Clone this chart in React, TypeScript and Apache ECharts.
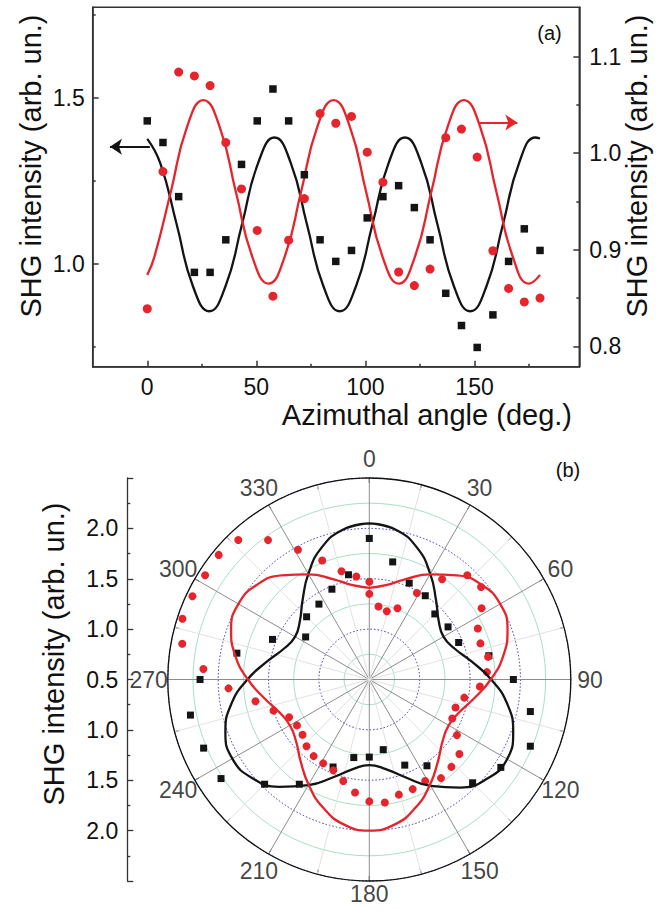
import React, { useEffect, useRef } from "react";
import * as echarts from "echarts";

// ---------- Panel (a): SHG vs azimuthal angle ----------
const azimuth = [0, 7.2, 14.4, 21.6, 28.8, 36, 43.2, 50.4, 57.6, 64.8, 72, 79.2, 86.4, 93.6, 100.8, 108, 115.2, 122.4, 129.6, 136.8, 144, 151.2, 158.4, 165.6, 172.8, 180];
const shgBlack = [1.430, 1.365, 1.202, 0.974, 0.974, 1.072, 1.299, 1.430, 1.526, 1.430, 1.268, 1.072, 1.007, 1.040, 1.138, 1.202, 1.235, 1.169, 1.072, 0.911, 0.814, 0.748, 0.846, 1.007, 1.105, 1.040];
const shgRed = [0.839, 0.981, 1.084, 1.080, 1.070, 1.011, 0.963, 0.920, 0.852, 0.910, 0.953, 1.041, 1.031, 1.038, 1.001, 0.970, 0.877, 0.863, 0.880, 1.016, 1.025, 0.996, 0.899, 0.860, 0.846, 0.850];

const blackFitAngle = [0, 6.0, 13.5, 20.9, 28.4, 35.9, 43.4, 50.8, 58.3, 65.8, 73.2, 80.7, 88.2, 95.7, 103.2, 110.6, 118.1, 125.6, 133.0, 140.5, 148.0, 155.5, 163.0, 170.4, 177.9, 180];
const blackFitValue = [1.376, 1.302, 1.118, 0.933, 0.857, 0.933, 1.118, 1.303, 1.380, 1.303, 1.118, 0.933, 0.857, 0.933, 1.118, 1.303, 1.380, 1.303, 1.118, 0.933, 0.857, 0.933, 1.118, 1.303, 1.380, 1.377];
const redFitAngle = [0, 3.3, 10.8, 18.2, 25.7, 33.2, 40.6, 48.1, 55.6, 63.0, 70.5, 77.9, 85.4, 92.9, 100.3, 107.8, 115.3, 122.7, 130.2, 137.6, 145.1, 152.6, 160.0, 167.5, 175.0, 180];
const redFitValue = [0.874, 0.893, 0.960, 1.027, 1.055, 1.027, 0.960, 0.893, 0.865, 0.893, 0.960, 1.027, 1.055, 1.027, 0.960, 0.893, 0.865, 0.893, 0.960, 1.027, 1.055, 1.027, 0.960, 0.893, 0.865, 0.874];

const xMajorTicks = [0, 50, 100, 150];
const xMinorTicks = [25, 75, 125, 175];
const leftMajorTicks = [1.0, 1.5];
const leftMinorTicks = [0.75, 1.25, 1.75];
const rightMajorTicks = [0.8, 0.9, 1.0, 1.1];
const rightMinorTicks = [0.85, 0.95, 1.05];

const blackArrow = { from: 1.2, to: -17.1, y: 1.352 };
const redArrow = { from: 151.7, to: 169.6, y: 1.0317 };

// ---------- Panel (b): polar plot ----------
const polarBlackAngle = [0, 11.25, 22.5, 33.75, 45, 56.25, 67.5, 78.75, 90, 101.25, 112.5, 123.75, 135, 146.25, 157.5, 168.75, 180, 191.25, 202.5, 213.75, 225, 236.25, 247.5, 258.75, 270, 281.25, 292.5, 303.75, 315, 326.25, 337.5, 348.75];
const polarBlackR = [1.90, 1.69, 1.535, 1.50, 1.42, 1.44, 1.46, 1.71, 1.93, 2.13, 2.23, 2.07, 1.95, 1.53, 1.42, 1.21, 1.27, 1.29, 1.44, 1.75, 1.97, 2.27, 2.28, 2.31, 2.18, 1.84, 1.54, 1.26, 1.38, 1.40, 1.47, 1.56];

const polarRedAngle = [0, 7.2, 14.4, 21.6, 28.8, 36, 43.2, 50.4, 57.6, 64.8, 72, 79.2, 86.4, 93.6, 100.8, 108, 115.2, 122.4, 129.6, 136.8, 144, 151.2, 158.4, 165.6, 172.8, 180, 187.2, 194.4, 201.6, 208.8, 216, 223.2, 230.4, 237.6, 244.8, 252, 259.2, 266.4, 273.6, 280.8, 288, 295.2, 302.4, 309.6, 316.8, 324, 331.2, 338.4, 345.6, 352.8, 360];
const polarRedR = [1.47, 1.23, 1.20, 1.26, 1.48, 1.73, 1.92, 1.94, 1.82, 1.69, 1.66, 1.70, 1.67, 1.60, 1.46, 1.40, 1.41, 1.53, 1.66, 1.69, 1.71, 1.65, 1.67, 1.68, 1.73, 1.71, 1.63, 1.54, 1.47, 1.45, 1.44, 1.41, 1.36, 1.35, 1.38, 1.50, 1.65, 1.90, 2.15, 2.39, 2.45, 2.44, 2.43, 2.44, 2.40, 2.21, 1.97, 1.77, 1.61, 1.53, 1.35];

const polarFitAngle = [0, 10, 20, 30, 40, 50, 60, 70, 80, 90, 100, 110, 120, 130, 140, 150, 160, 170, 180, 190, 200, 210, 220, 230, 240, 250, 260, 270, 280, 290, 300, 310, 320, 330, 340, 350, 360];
const polarBlackFitR = [2.05, 2.01, 1.89, 1.71, 1.53, 1.40, 1.35, 1.40, 1.53, 1.71, 1.89, 2.02, 2.08, 2.03, 1.90, 1.72, 1.53, 1.40, 1.35, 1.40, 1.53, 1.71, 1.89, 2.02, 2.07, 2.02, 1.89, 1.71, 1.53, 1.40, 1.35, 1.40, 1.53, 1.71, 1.89, 2.01, 2.05];
const polarRedFitR = [1.41, 1.45, 1.56, 1.705, 1.85, 1.96, 2.0, 1.96, 1.85, 1.705, 1.56, 1.45, 1.41, 1.45, 1.56, 1.705, 1.85, 1.96, 2.0, 1.96, 1.85, 1.705, 1.56, 1.45, 1.41, 1.45, 1.56, 1.705, 1.85, 1.96, 2.0, 1.96, 1.85, 1.705, 1.56, 1.45, 1.41];

const angleTickLabels = [0, 30, 60, 90, 120, 150, 180, 210, 240, 270, 300, 330];
const angleLabelRadius = 2.69;

const BLACK = "#141414";
const RED = "#e5242b";
const AXIS = "#333333";
const NARROW = "'Liberation Sans Narrow', 'Arial Narrow', 'Liberation Sans', Arial, sans-serif";
const SANS = "'Liberation Sans', Arial, Helvetica, sans-serif";

const zip = (a: number[], b: number[]) => a.map((v, i) => [v, b[i]]);

export default function App() {
  const ref = useRef<HTMLDivElement>(null);
  useEffect(() => {
    if (!ref.current) return;
    const chart = echarts.init(ref.current, undefined, { renderer: "svg" });
    const axisLine = { show: true, onZero: false, lineStyle: { color: AXIS, width: 1.5 } };
    const noLine = { show: false, onZero: false };
    const tickStyle = { color: AXIS, width: 1.5 };
    const labelStyle = { color: "#111", fontSize: 23, fontFamily: NARROW };
    const gridRect = { left: 92.7, top: 7.3, width: 486.6, height: 359.4 };

    const option: any = {
      animation: false,
      backgroundColor: "#ffffff",
      grid: [
        { ...gridRect, show: true, borderColor: AXIS, borderWidth: 1.5, backgroundColor: "transparent" },
        { left: 127.3, top: 478, width: 20, height: 403 },
        { ...gridRect, show: false },
      ],
      xAxis: [
        {
          gridIndex: 0, type: "value", min: -25, max: 198, position: "bottom",
          axisLine,
          axisTick: { show: true, inside: true, length: 6, lineStyle: tickStyle, customValues: xMajorTicks },
          axisLabel: { ...labelStyle, margin: 9, customValues: xMajorTicks },
          splitLine: { show: false },
        },
        { gridIndex: 1, type: "value", show: false, axisLine: noLine },
        {
          gridIndex: 2, type: "value", min: -25, max: 198, position: "bottom",
          axisLine: noLine,
          axisTick: { show: true, inside: true, length: 3, lineStyle: tickStyle, customValues: xMinorTicks },
          axisLabel: { show: false },
          splitLine: { show: false },
        },
      ],
      yAxis: [
        {
          gridIndex: 0, type: "value", min: 0.69, max: 1.772, position: "left",
          axisLine,
          axisTick: { show: true, inside: true, length: 6, lineStyle: tickStyle, customValues: leftMajorTicks },
          axisLabel: { ...labelStyle, margin: 8, customValues: leftMajorTicks, formatter: (v: number) => v.toFixed(1) },
          splitLine: { show: false },
        },
        {
          gridIndex: 0, type: "value", min: 0.779, max: 1.151, position: "right",
          axisLine,
          axisTick: { show: true, inside: true, length: 6, lineStyle: tickStyle, customValues: rightMajorTicks },
          axisLabel: { ...labelStyle, margin: 10, customValues: rightMajorTicks, formatter: (v: number) => v.toFixed(1) },
          splitLine: { show: false },
        },
        {
          gridIndex: 1, type: "value", min: -2, max: 2, interval: 0.5, position: "left",
          axisLine: { show: true, onZero: false, lineStyle: { color: AXIS, width: 1.3 } },
          axisTick: { show: true, inside: true, length: 6, lineStyle: { color: AXIS, width: 1.3 } },
          minorTick: { show: true, splitNumber: 2, length: 3, lineStyle: { color: AXIS, width: 1.3 } },
          axisLabel: { ...labelStyle, margin: 9, showMinLabel: false, showMaxLabel: false, formatter: (v: number) => (Math.abs(v) + 0.5).toFixed(1) },
          splitLine: { show: false },
        },
        {
          gridIndex: 2, type: "value", min: 0.69, max: 1.772, position: "left",
          axisLine: noLine,
          axisTick: { show: true, inside: true, length: 3, lineStyle: tickStyle, customValues: leftMinorTicks },
          axisLabel: { show: false },
          splitLine: { show: false },
        },
        {
          gridIndex: 2, type: "value", min: 0.779, max: 1.151, position: "right",
          axisLine: noLine,
          axisTick: { show: true, inside: true, length: 3, lineStyle: tickStyle, customValues: rightMinorTicks },
          axisLabel: { show: false },
          splitLine: { show: false },
        },
      ],
      polar: { center: [369.3, 679.5], radius: 201.5 },
      angleAxis: {
        type: "value", min: 0, max: 360, interval: 30, startAngle: 90, clockwise: true, z: 3,
        axisLine: { show: true, lineStyle: { color: "#111", width: 1.3 } },
        axisTick: { show: true, inside: true, length: 5, lineStyle: { color: "#111", width: 1 } },
        minorTick: { show: true, splitNumber: 2, length: 5, lineStyle: { color: "#111", width: 1 } },
        axisLabel: { show: false },
        splitLine: { show: true, lineStyle: { color: "#8c8c8c", width: 1 } },
        minorSplitLine: { show: true, lineStyle: { color: "#e2e2e2", width: 1 } },
      },
      radiusAxis: {
        type: "value", min: 0.5, max: 2.5, interval: 0.5, z: 1,
        axisLine: { show: false },
        axisTick: { show: false },
        axisLabel: { show: false },
        minorTick: { show: false, splitNumber: 2 },
        splitLine: { show: true, lineStyle: { color: "#3535b5", width: 1, type: [1.5, 2] } },
        minorSplitLine: { show: true, lineStyle: { color: "#a9e0c3", width: 1 } },
      },
      series: [
        {
          type: "line", xAxisIndex: 0, yAxisIndex: 0, data: zip(blackFitAngle, blackFitValue),
          smooth: true, symbol: "none", lineStyle: { color: BLACK, width: 2.3 }, z: 2,
          markLine: {
            silent: true, symbol: ["none", "arrow"], symbolSize: 12, label: { show: false },
            lineStyle: { color: BLACK, width: 2, type: "solid" },
            data: [[{ coord: [blackArrow.from, blackArrow.y] }, { coord: [blackArrow.to, blackArrow.y] }]],
          },
        },
        {
          type: "line", xAxisIndex: 0, yAxisIndex: 1, data: zip(redFitAngle, redFitValue),
          smooth: true, symbol: "none", lineStyle: { color: RED, width: 2.3 }, z: 2,
          markLine: {
            silent: true, symbol: ["none", "arrow"], symbolSize: 12, label: { show: false },
            lineStyle: { color: RED, width: 2, type: "solid" },
            data: [[{ coord: [redArrow.from, redArrow.y] }, { coord: [redArrow.to, redArrow.y] }]],
          },
        },
        {
          type: "scatter", xAxisIndex: 0, yAxisIndex: 0, data: zip(azimuth, shgBlack),
          symbol: "rect", symbolSize: 7.5, itemStyle: { color: BLACK, opacity: 1 }, z: 3,
        },
        {
          type: "scatter", xAxisIndex: 0, yAxisIndex: 1, data: zip(azimuth, shgRed),
          symbol: "circle", symbolSize: 9, itemStyle: { color: RED, opacity: 1 }, z: 3,
        },
        {
          type: "scatter", coordinateSystem: "polar", data: zip(polarBlackR, polarBlackAngle),
          symbol: "rect", symbolSize: 7, itemStyle: { color: BLACK, opacity: 1 }, z: 3,
        },
        {
          type: "scatter", coordinateSystem: "polar", data: zip(polarRedR, polarRedAngle),
          symbol: "circle", symbolSize: 8, itemStyle: { color: RED, opacity: 1 }, z: 3,
        },
        {
          type: "line", coordinateSystem: "polar", data: zip(polarBlackFitR, polarFitAngle),
          smooth: true, symbol: "none", lineStyle: { color: BLACK, width: 2.3 }, z: 4,
        },
        {
          type: "line", coordinateSystem: "polar", data: zip(polarRedFitR, polarFitAngle),
          smooth: true, symbol: "none", lineStyle: { color: RED, width: 2.3 }, z: 4,
        },
        {
          type: "scatter", coordinateSystem: "polar", clip: false, silent: true,
          data: angleTickLabels.map((a) => ({
            value: [angleLabelRadius, a],
            name: String(a),
            label: a === 180 ? { offset: [0, -6] } : undefined,
          })),
          symbolSize: 1, itemStyle: { color: "rgba(0,0,0,0)" },
          label: { show: true, position: "inside", formatter: "{b}", lineHeight: 18, ...labelStyle },
          z: 5,
        },
      ],
      graphic: [
        { type: "text", x: 572, y: 415, style: { text: "Azimuthal angle (deg.)", fontSize: 29, fontFamily: SANS, fill: "#111", align: "right", verticalAlign: "middle" } },
        { type: "text", x: 31, y: 166, rotation: Math.PI / 2, style: { text: "SHG intensity (arb. un.)", fontSize: 29, fontFamily: SANS, fill: "#111", align: "center", verticalAlign: "middle" } },
        { type: "text", x: 637, y: 166, rotation: Math.PI / 2, style: { text: "SHG intensity (arb. un.)", fontSize: 29, fontFamily: SANS, fill: "#111", align: "center", verticalAlign: "middle" } },
        { type: "text", x: 54, y: 654, rotation: Math.PI / 2, style: { text: "SHG intensity (arb. un.)", fontSize: 29, fontFamily: SANS, fill: "#111", align: "center", verticalAlign: "middle" } },
        { type: "text", x: 549.5, y: 33, style: { text: "(a)", fontSize: 20, fontFamily: SANS, fill: "#111", align: "center", verticalAlign: "middle" } },
        { type: "text", x: 568, y: 470, style: { text: "(b)", fontSize: 20, fontFamily: SANS, fill: "#111", align: "center", verticalAlign: "middle" } },
      ],
    };
    chart.setOption(option);
    return () => chart.dispose();
  }, []);
  return <div ref={ref} style={{ position: "fixed", left: 0, top: 0, width: 669, height: 910, background: "#fff" }} />;
}
